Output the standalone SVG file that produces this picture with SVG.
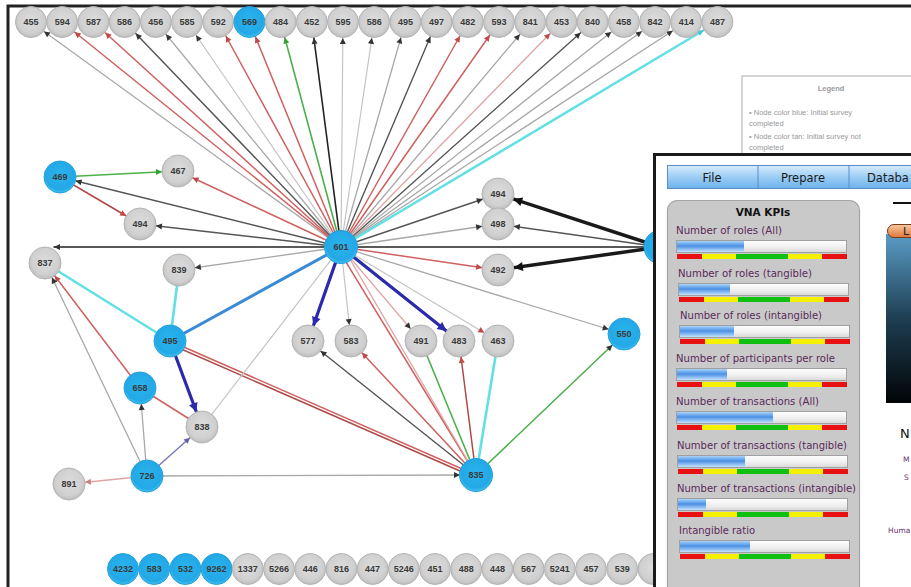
<svg xmlns="http://www.w3.org/2000/svg" width="911" height="587" viewBox="0 0 911 587">
<defs>
<style>
.e{fill:none;stroke-linecap:round}
.gray{stroke:#a8a8a8;stroke-width:1.3}
.lgray{stroke:#c4c4c4;stroke-width:1.2}
.dgray{stroke:#555;stroke-width:1.4}
.black{stroke:#222;stroke-width:1.6}
.red{stroke:#d06060;stroke-width:1.5}
.dred{stroke:#b04848;stroke-width:1.5}
.pink{stroke:#e2a4a4;stroke-width:1.3}
.green{stroke:#4cb04c;stroke-width:1.6}
.cyan{stroke:#62e0e4;stroke-width:2.6}
.blue{stroke:#3a8ad6;stroke-width:3}
.dblue{stroke:#2a2aaa;stroke-width:3.2}
.purple{stroke:#7a7ab8;stroke-width:1.5}
.thick{stroke:#1a1a1a;stroke-width:3.5}
.g circle{fill:url(#gg);stroke:#b4b4b4;stroke-width:1}
.b circle{fill:url(#bg);stroke:#22a0dc;stroke-width:1}
.node text{font-family:"Liberation Sans",Arial,sans-serif;font-size:9px;font-weight:bold;fill:#3a3a3a;text-anchor:middle;dominant-baseline:central}
.menu{font-family:"DejaVu Sans",sans-serif;font-size:11.5px;fill:#1a1a1a}
.kl{font-family:"DejaVu Sans",sans-serif;font-size:10px;fill:#5a2a5a}
.leg{font-family:"Liberation Sans",Arial,sans-serif;font-size:7.5px;fill:#999}
.bar{fill:url(#barbg);stroke:#a0a0a0;stroke-width:1}
.fillb{fill:url(#bluebar)}
.rd{fill:#e81010}.yl{fill:#f4f000}.gn{fill:#10c010}
</style>
<radialGradient id="gg" cx="50%" cy="45%" r="55%"><stop offset="0" stop-color="#dcdcdc"/><stop offset="0.75" stop-color="#d0d0d0"/><stop offset="1" stop-color="#bdbdbd"/></radialGradient>
<radialGradient id="bg" cx="50%" cy="45%" r="55%"><stop offset="0" stop-color="#2ab4ee"/><stop offset="0.8" stop-color="#22a8e6"/><stop offset="1" stop-color="#45c2f0"/></radialGradient>
<linearGradient id="menubg" x1="0" y1="0" x2="0" y2="1"><stop offset="0" stop-color="#d8ecfc"/><stop offset="0.5" stop-color="#9ccdf4"/><stop offset="1" stop-color="#6cb2ec"/></linearGradient>
<linearGradient id="barbg" x1="0" y1="0" x2="0" y2="1"><stop offset="0" stop-color="#ffffff"/><stop offset="0.6" stop-color="#eeeeee"/><stop offset="1" stop-color="#d8d8d8"/></linearGradient>
<linearGradient id="bluebar" x1="0" y1="0" x2="0" y2="1"><stop offset="0" stop-color="#a8d4fa"/><stop offset="0.45" stop-color="#4a90e4"/><stop offset="1" stop-color="#c4e2fc"/></linearGradient>
<linearGradient id="darkbox" x1="0" y1="0" x2="0" y2="1"><stop offset="0" stop-color="#5a9cc6"/><stop offset="0.5" stop-color="#1e3e52"/><stop offset="1" stop-color="#020406"/></linearGradient>
<linearGradient id="orange" x1="0" y1="0" x2="0" y2="1"><stop offset="0" stop-color="#f8c8a0"/><stop offset="1" stop-color="#e0783c"/></linearGradient>
<marker id="ad" markerUnits="userSpaceOnUse" markerWidth="6" markerHeight="6" refX="22" refY="0" orient="auto" overflow="visible"><path d="M0,-3 L6,0 L0,3z" fill="#333"/></marker>
<marker id="adt" markerUnits="userSpaceOnUse" markerWidth="6" markerHeight="6" refX="6" refY="0" orient="auto" overflow="visible"><path d="M0,-3 L6,0 L0,3z" fill="#333"/></marker>
<marker id="ar" markerUnits="userSpaceOnUse" markerWidth="6" markerHeight="6" refX="22" refY="0" orient="auto" overflow="visible"><path d="M0,-3 L6,0 L0,3z" fill="#c04848"/></marker>
<marker id="ag" markerUnits="userSpaceOnUse" markerWidth="6" markerHeight="6" refX="22" refY="0" orient="auto" overflow="visible"><path d="M0,-3 L6,0 L0,3z" fill="#33a033"/></marker>
<marker id="ac" markerUnits="userSpaceOnUse" markerWidth="6" markerHeight="6" refX="22" refY="0" orient="auto" overflow="visible"><path d="M0,-3 L6,0 L0,3z" fill="#40c8d0"/></marker>
<marker id="ap" markerUnits="userSpaceOnUse" markerWidth="6" markerHeight="6" refX="22" refY="0" orient="auto" overflow="visible"><path d="M0,-3 L6,0 L0,3z" fill="#6060a8"/></marker>
<marker id="apk" markerUnits="userSpaceOnUse" markerWidth="6" markerHeight="6" refX="22" refY="0" orient="auto" overflow="visible"><path d="M0,-3 L6,0 L0,3z" fill="#d08080"/></marker>
<marker id="adb" markerUnits="userSpaceOnUse" markerWidth="9" markerHeight="9" refX="25" refY="0" orient="auto" overflow="visible"><path d="M0,-4.5 L9,0 L0,4.5z" fill="#2a2aaa"/></marker>
<marker id="abk" markerUnits="userSpaceOnUse" markerWidth="9" markerHeight="9" refX="25" refY="0" orient="auto" overflow="visible"><path d="M0,-4.5 L9,0 L0,4.5z" fill="#111"/></marker>
</defs>
<rect x="0" y="0" width="911" height="587" fill="#ffffff"/>
<path d="M8,587 V6 H911" fill="none" stroke="#222" stroke-width="3"/>

<g id="legend">
<rect x="742" y="76" width="175" height="90" fill="#fff" stroke="#c8c8c8" stroke-width="1.5"/>
<text x="831" y="91" class="leg" text-anchor="middle" font-weight="bold" fill="#888">Legend</text>
<text x="749" y="115" class="leg">• Node color blue: Initial survey</text>
<text x="749" y="126" class="leg">completed</text>
<text x="749" y="139" class="leg">• Node color tan: Initial survey not</text>
<text x="749" y="150" class="leg">completed</text>
</g>

<g id="connectors">
<line class="e gray" x1="341" y1="247" x2="31" y2="22" marker-end="url(#ad)"/>
<line class="e red" x1="341" y1="247" x2="62.2" y2="22" marker-end="url(#ar)"/>
<line class="e red" x1="341" y1="247" x2="93.4" y2="22" marker-end="url(#ar)"/>
<line class="e dgray" x1="341" y1="247" x2="124.6" y2="22" marker-end="url(#ad)"/>
<line class="e gray" x1="341" y1="247" x2="155.8" y2="22" marker-end="url(#ad)"/>
<line class="e lgray" x1="341" y1="247" x2="187" y2="22" marker-end="url(#ad)"/>
<line class="e red" x1="341" y1="247" x2="218.2" y2="22" marker-end="url(#ar)"/>
<line class="e red" x1="341" y1="247" x2="249.4" y2="22" marker-end="url(#ar)"/>
<line class="e green" x1="341" y1="247" x2="280.6" y2="22" marker-end="url(#ag)"/>
<line class="e black" x1="341" y1="247" x2="311.8" y2="22" marker-end="url(#ad)"/>
<line class="e lgray" x1="341" y1="247" x2="343" y2="22" marker-end="url(#ad)"/>
<line class="e lgray" x1="341" y1="247" x2="374.2" y2="22" marker-end="url(#ad)"/>
<line class="e gray" x1="341" y1="247" x2="405.4" y2="22" marker-end="url(#ad)"/>
<line class="e dgray" x1="341" y1="247" x2="436.6" y2="22" marker-end="url(#ad)"/>
<line class="e red" x1="341" y1="247" x2="467.8" y2="22" marker-end="url(#ar)"/>
<line class="e red" x1="341" y1="247" x2="499" y2="22" marker-end="url(#ar)"/>
<line class="e gray" x1="341" y1="247" x2="530.2" y2="22" marker-end="url(#ad)"/>
<line class="e pink" x1="341" y1="247" x2="561.4" y2="22" marker-end="url(#ar)"/>
<line class="e dgray" x1="341" y1="247" x2="592.6" y2="22" marker-end="url(#ad)"/>
<line class="e gray" x1="341" y1="247" x2="623.8" y2="22" marker-end="url(#ad)"/>
<line class="e gray" x1="341" y1="247" x2="655" y2="22" marker-end="url(#ad)"/>
<line class="e gray" x1="341" y1="247" x2="686.2" y2="22" marker-end="url(#ad)"/>
<line class="e cyan" x1="341" y1="247" x2="717.4" y2="22" marker-end="url(#ac)"/>

<line class="e green" x1="60" y1="177" x2="178" y2="171" marker-end="url(#ag)"/>
<line class="e red" x1="341" y1="247" x2="178" y2="171" marker-end="url(#ar)"/>
<line class="e dred" x1="60" y1="177" x2="140" y2="224" marker-end="url(#ar)"/>
<line class="e dgray" x1="341" y1="247" x2="140" y2="224" marker-end="url(#ad)"/>
<line class="e dgray" x1="341" y1="247" x2="60" y2="177" marker-end="url(#ad)"/>
<line class="e black" x1="660" y1="247" x2="54" y2="247" marker-end="url(#adt)"/>
<line class="e gray" x1="341" y1="247" x2="179" y2="270" marker-end="url(#ad)"/>
<line class="e cyan" x1="45" y1="263" x2="170" y2="341"/>
<line class="e cyan" x1="179" y1="270" x2="170" y2="341"/>
<line class="e blue" x1="341" y1="247" x2="170" y2="341"/>
<line class="e red" x1="170" y1="341" x2="476" y2="475"/>
<line class="e dred" x1="172" y1="345" x2="476" y2="478"/>
<line class="e red" x1="140" y1="388" x2="202" y2="427"/>
<line class="e red" x1="140" y1="388" x2="45" y2="263" marker-end="url(#ar)"/>
<line class="e gray" x1="147" y1="476" x2="45" y2="263" marker-end="url(#ad)"/>
<line class="e gray" x1="147" y1="476" x2="140" y2="388" marker-end="url(#ad)"/>
<line class="e purple" x1="147" y1="476" x2="202" y2="427" marker-end="url(#ap)"/>
<line class="e lgray" x1="202" y1="427" x2="341" y2="247"/>
<line class="e pink" x1="147" y1="476" x2="69" y2="484" marker-end="url(#apk)"/>
<line class="e gray" x1="147" y1="476" x2="476" y2="475" marker-end="url(#ad)"/>
<line class="e dblue" x1="170" y1="341" x2="202" y2="427" marker-end="url(#adb)"/>

<line class="e dblue" x1="341" y1="247" x2="308" y2="341" marker-end="url(#adb)"/>
<line class="e lgray" x1="341" y1="247" x2="351" y2="341" marker-end="url(#ad)"/>
<line class="e pink" x1="341" y1="247" x2="421" y2="341" marker-end="url(#ad)"/>
<line class="e dblue" x1="341" y1="247" x2="459" y2="341" marker-end="url(#adb)"/>
<line class="e lgray" x1="341" y1="247" x2="498" y2="341" marker-end="url(#ar)"/>
<line class="e gray" x1="341" y1="247" x2="624" y2="334" marker-end="url(#ad)"/>
<line class="e red" x1="338" y1="249" x2="476" y2="475"/>
<line class="e pink" x1="344" y1="249" x2="476" y2="475"/>
<line class="e dgray" x1="476" y1="475" x2="308" y2="341" marker-end="url(#ad)"/>
<line class="e red" x1="476" y1="475" x2="351" y2="341" marker-end="url(#ar)"/>
<line class="e green" x1="476" y1="475" x2="421" y2="341"/>
<line class="e dred" x1="476" y1="475" x2="459" y2="341" marker-end="url(#ar)"/>
<line class="e cyan" x1="476" y1="475" x2="498" y2="341"/>
<line class="e green" x1="476" y1="475" x2="624" y2="334" marker-end="url(#ad)"/>

<line class="e dgray" x1="341" y1="247" x2="498" y2="194" marker-end="url(#ad)"/>
<line class="e gray" x1="341" y1="247" x2="498" y2="224" marker-end="url(#ad)"/>
<line class="e red" x1="341" y1="247" x2="498" y2="270" marker-end="url(#ar)"/>
<line class="e thick" x1="660" y1="247" x2="498" y2="194" marker-end="url(#abk)"/>
<line class="e dgray" x1="660" y1="247" x2="498" y2="224" marker-end="url(#ad)"/>
<line class="e thick" x1="660" y1="247" x2="498" y2="270" marker-end="url(#abk)"/>
</g>

<g id="n-t455" class="node g"><circle cx="31" cy="22" r="15.5"/><text x="31" y="22">455</text></g>
<g id="n-t594" class="node g"><circle cx="62.2" cy="22" r="15.5"/><text x="62.2" y="22">594</text></g>
<g id="n-t587" class="node g"><circle cx="93.4" cy="22" r="15.5"/><text x="93.4" y="22">587</text></g>
<g id="n-t586a" class="node g"><circle cx="124.6" cy="22" r="15.5"/><text x="124.6" y="22">586</text></g>
<g id="n-t456" class="node g"><circle cx="155.8" cy="22" r="15.5"/><text x="155.8" y="22">456</text></g>
<g id="n-t585" class="node g"><circle cx="187" cy="22" r="15.5"/><text x="187" y="22">585</text></g>
<g id="n-t592" class="node g"><circle cx="218.2" cy="22" r="15.5"/><text x="218.2" y="22">592</text></g>
<g id="n-t569" class="node b"><circle cx="249.4" cy="22" r="15.5"/><text x="249.4" y="22">569</text></g>
<g id="n-t484" class="node g"><circle cx="280.6" cy="22" r="15.5"/><text x="280.6" y="22">484</text></g>
<g id="n-t452" class="node g"><circle cx="311.8" cy="22" r="15.5"/><text x="311.8" y="22">452</text></g>
<g id="n-t595" class="node g"><circle cx="343" cy="22" r="15.5"/><text x="343" y="22">595</text></g>
<g id="n-t586b" class="node g"><circle cx="374.2" cy="22" r="15.5"/><text x="374.2" y="22">586</text></g>
<g id="n-t495" class="node g"><circle cx="405.4" cy="22" r="15.5"/><text x="405.4" y="22">495</text></g>
<g id="n-t497" class="node g"><circle cx="436.6" cy="22" r="15.5"/><text x="436.6" y="22">497</text></g>
<g id="n-t482" class="node g"><circle cx="467.8" cy="22" r="15.5"/><text x="467.8" y="22">482</text></g>
<g id="n-t593" class="node g"><circle cx="499" cy="22" r="15.5"/><text x="499" y="22">593</text></g>
<g id="n-t841" class="node g"><circle cx="530.2" cy="22" r="15.5"/><text x="530.2" y="22">841</text></g>
<g id="n-t453" class="node g"><circle cx="561.4" cy="22" r="15.5"/><text x="561.4" y="22">453</text></g>
<g id="n-t840" class="node g"><circle cx="592.6" cy="22" r="15.5"/><text x="592.6" y="22">840</text></g>
<g id="n-t458" class="node g"><circle cx="623.8" cy="22" r="15.5"/><text x="623.8" y="22">458</text></g>
<g id="n-t842" class="node g"><circle cx="655" cy="22" r="15.5"/><text x="655" y="22">842</text></g>
<g id="n-t414" class="node g"><circle cx="686.2" cy="22" r="15.5"/><text x="686.2" y="22">414</text></g>
<g id="n-t487" class="node g"><circle cx="717.4" cy="22" r="15.5"/><text x="717.4" y="22">487</text></g>

<g id="n-601" class="node b"><circle cx="341" cy="247" r="16.5"/><text x="341" y="247">601</text></g>
<g id="n-469" class="node b"><circle cx="60" cy="177" r="16"/><text x="60" y="177">469</text></g>
<g id="n-467" class="node g"><circle cx="178" cy="171" r="16"/><text x="178" y="171">467</text></g>
<g id="n-494a" class="node g"><circle cx="140" cy="224" r="16"/><text x="140" y="224">494</text></g>
<g id="n-837" class="node g"><circle cx="45" cy="263" r="16"/><text x="45" y="263">837</text></g>
<g id="n-839" class="node g"><circle cx="179" cy="270" r="16"/><text x="179" y="270">839</text></g>
<g id="n-495" class="node b"><circle cx="170" cy="341" r="16"/><text x="170" y="341">495</text></g>
<g id="n-658" class="node b"><circle cx="140" cy="388" r="16"/><text x="140" y="388">658</text></g>
<g id="n-838" class="node g"><circle cx="202" cy="427" r="16"/><text x="202" y="427">838</text></g>
<g id="n-726" class="node b"><circle cx="147" cy="476" r="16"/><text x="147" y="476">726</text></g>
<g id="n-891" class="node g"><circle cx="69" cy="484" r="16"/><text x="69" y="484">891</text></g>
<g id="n-577" class="node g"><circle cx="308" cy="341" r="16"/><text x="308" y="341">577</text></g>
<g id="n-583" class="node g"><circle cx="351" cy="341" r="16"/><text x="351" y="341">583</text></g>
<g id="n-491" class="node g"><circle cx="421" cy="341" r="16"/><text x="421" y="341">491</text></g>
<g id="n-483" class="node g"><circle cx="459" cy="341" r="16"/><text x="459" y="341">483</text></g>
<g id="n-463" class="node g"><circle cx="498" cy="341" r="16"/><text x="498" y="341">463</text></g>
<g id="n-550" class="node b"><circle cx="624" cy="334" r="16"/><text x="624" y="334">550</text></g>
<g id="n-835" class="node b"><circle cx="476" cy="475" r="16.5"/><text x="476" y="475">835</text></g>
<g id="n-494b" class="node g"><circle cx="498" cy="194" r="16"/><text x="498" y="194">494</text></g>
<g id="n-498" class="node g"><circle cx="498" cy="224" r="16"/><text x="498" y="224">498</text></g>
<g id="n-492" class="node g"><circle cx="498" cy="270" r="16"/><text x="498" y="270">492</text></g>
<g id="n-right" class="node b"><circle cx="661" cy="247" r="17"/></g>

<g id="n-b4232" class="node b"><circle cx="123" cy="569" r="15.5"/><text x="123" y="569">4232</text></g>
<g id="n-b583" class="node b"><circle cx="154.2" cy="569" r="15.5"/><text x="154.2" y="569">583</text></g>
<g id="n-b532" class="node b"><circle cx="185.4" cy="569" r="15.5"/><text x="185.4" y="569">532</text></g>
<g id="n-b9262" class="node b"><circle cx="216.6" cy="569" r="15.5"/><text x="216.6" y="569">9262</text></g>
<g id="n-b1337" class="node g"><circle cx="247.8" cy="569" r="15.5"/><text x="247.8" y="569">1337</text></g>
<g id="n-b5266" class="node g"><circle cx="279" cy="569" r="15.5"/><text x="279" y="569">5266</text></g>
<g id="n-b446" class="node g"><circle cx="310.2" cy="569" r="15.5"/><text x="310.2" y="569">446</text></g>
<g id="n-b816" class="node g"><circle cx="341.4" cy="569" r="15.5"/><text x="341.4" y="569">816</text></g>
<g id="n-b447" class="node g"><circle cx="372.6" cy="569" r="15.5"/><text x="372.6" y="569">447</text></g>
<g id="n-b5246" class="node g"><circle cx="403.8" cy="569" r="15.5"/><text x="403.8" y="569">5246</text></g>
<g id="n-b451" class="node g"><circle cx="435" cy="569" r="15.5"/><text x="435" y="569">451</text></g>
<g id="n-b488" class="node g"><circle cx="466.2" cy="569" r="15.5"/><text x="466.2" y="569">488</text></g>
<g id="n-b448" class="node g"><circle cx="497.4" cy="569" r="15.5"/><text x="497.4" y="569">448</text></g>
<g id="n-b567" class="node g"><circle cx="528.6" cy="569" r="15.5"/><text x="528.6" y="569">567</text></g>
<g id="n-b5241" class="node g"><circle cx="559.8" cy="569" r="15.5"/><text x="559.8" y="569">5241</text></g>
<g id="n-b457" class="node g"><circle cx="591" cy="569" r="15.5"/><text x="591" y="569">457</text></g>
<g id="n-b539" class="node g"><circle cx="622.2" cy="569" r="15.5"/><text x="622.2" y="569">539</text></g>
<g id="n-b-last" class="node g"><circle cx="653.4" cy="569" r="15.5"/></g>

<g id="panel">
<rect x="654.5" y="154.5" width="260" height="440" fill="#ffffff" stroke="#1a1a1a" stroke-width="3"/>
<g id="menubar">
<rect x="667.5" y="165.5" width="250" height="23" fill="url(#menubg)" stroke="#5a8cc8" stroke-width="1"/>
<line x1="758" y1="166" x2="758" y2="188" stroke="#5a8cc8"/>
<line x1="849" y1="166" x2="849" y2="188" stroke="#5a8cc8"/>
<text x="712" y="181.5" class="menu" text-anchor="middle">File</text>
<text x="803" y="181.5" class="menu" text-anchor="middle">Prepare</text>
<text x="867" y="181.5" class="menu">Databa</text>
</g>
<g id="kpis">
<rect x="667.5" y="200.5" width="192" height="400" rx="10" fill="#c9c9c9" stroke="#a4a4a4" stroke-width="1.2"/>
<text x="763" y="216" font-family="DejaVu Sans, sans-serif" font-size="10.5" font-weight="bold" fill="#111" text-anchor="middle">VNA KPIs</text>

<text x="676" y="234" class="kl" textLength="106" lengthAdjust="spacingAndGlyphs">Number of roles (All)</text>
<rect class="bar" x="676.5" y="240.5" width="170" height="12"/><rect class="fillb" x="677" y="241" width="67" height="11"/>
<rect class="rd" x="677" y="254" width="25" height="5"/><rect class="yl" x="702" y="254" width="34" height="5"/><rect class="gn" x="736" y="254" width="52" height="5"/><rect class="yl" x="788" y="254" width="34" height="5"/><rect class="rd" x="822" y="254" width="25" height="5"/>

<text x="678" y="277" class="kl" textLength="134" lengthAdjust="spacingAndGlyphs">Number of roles (tangible)</text>
<rect class="bar" x="678.5" y="283.5" width="170" height="12"/><rect class="fillb" x="679" y="284" width="51" height="11"/>
<rect class="rd" x="679" y="297" width="25" height="5"/><rect class="yl" x="704" y="297" width="34" height="5"/><rect class="gn" x="738" y="297" width="52" height="5"/><rect class="yl" x="790" y="297" width="34" height="5"/><rect class="rd" x="824" y="297" width="25" height="5"/>

<text x="680" y="319" class="kl" textLength="142" lengthAdjust="spacingAndGlyphs">Number of roles (intangible)</text>
<rect class="bar" x="679.5" y="325.5" width="170" height="12"/><rect class="fillb" x="680" y="326" width="54" height="11"/>
<rect class="rd" x="680" y="339" width="25" height="5"/><rect class="yl" x="705" y="339" width="34" height="5"/><rect class="gn" x="739" y="339" width="52" height="5"/><rect class="yl" x="791" y="339" width="34" height="5"/><rect class="rd" x="825" y="339" width="25" height="5"/>

<text x="676" y="362" class="kl" textLength="159" lengthAdjust="spacingAndGlyphs">Number of participants per role</text>
<rect class="bar" x="676.5" y="368.5" width="170" height="12"/><rect class="fillb" x="677" y="369" width="50" height="11"/>
<rect class="rd" x="677" y="382" width="25" height="5"/><rect class="yl" x="702" y="382" width="34" height="5"/><rect class="gn" x="736" y="382" width="52" height="5"/><rect class="yl" x="788" y="382" width="34" height="5"/><rect class="rd" x="822" y="382" width="25" height="5"/>

<text x="676" y="405" class="kl" textLength="143" lengthAdjust="spacingAndGlyphs">Number of transactions (All)</text>
<rect class="bar" x="676.5" y="411.5" width="170" height="12"/><rect class="fillb" x="677" y="412" width="96" height="11"/>
<rect class="rd" x="677" y="425" width="25" height="5"/><rect class="yl" x="702" y="425" width="34" height="5"/><rect class="gn" x="736" y="425" width="52" height="5"/><rect class="yl" x="788" y="425" width="34" height="5"/><rect class="rd" x="822" y="425" width="25" height="5"/>

<text x="677" y="449" class="kl" textLength="170" lengthAdjust="spacingAndGlyphs">Number of transactions (tangible)</text>
<rect class="bar" x="677.5" y="455.5" width="170" height="12"/><rect class="fillb" x="678" y="456" width="67" height="11"/>
<rect class="rd" x="678" y="469" width="25" height="5"/><rect class="yl" x="703" y="469" width="34" height="5"/><rect class="gn" x="737" y="469" width="52" height="5"/><rect class="yl" x="789" y="469" width="34" height="5"/><rect class="rd" x="823" y="469" width="25" height="5"/>

<text x="677" y="492" class="kl" textLength="179" lengthAdjust="spacingAndGlyphs">Number of transactions (intangible)</text>
<rect class="bar" x="677.5" y="498.5" width="170" height="12"/><rect class="fillb" x="678" y="499" width="28" height="11"/>
<rect class="rd" x="678" y="512" width="25" height="5"/><rect class="yl" x="703" y="512" width="34" height="5"/><rect class="gn" x="737" y="512" width="52" height="5"/><rect class="yl" x="789" y="512" width="34" height="5"/><rect class="rd" x="823" y="512" width="25" height="5"/>

<text x="679" y="534" class="kl" textLength="76" lengthAdjust="spacingAndGlyphs">Intangible ratio</text>
<rect class="bar" x="679.5" y="540.5" width="170" height="12"/><rect class="fillb" x="680" y="541" width="70" height="11"/>
<rect class="rd" x="680" y="554" width="25" height="5"/><rect class="yl" x="705" y="554" width="34" height="5"/><rect class="gn" x="739" y="554" width="52" height="5"/><rect class="yl" x="791" y="554" width="34" height="5"/><rect class="rd" x="825" y="554" width="25" height="5"/>
</g>
<line x1="893" y1="203" x2="911" y2="203" stroke="#111" stroke-width="2"/>
<rect x="886" y="234" width="30" height="169" fill="url(#darkbox)"/>
<rect x="887.5" y="224.5" width="30" height="13" rx="6.5" fill="url(#orange)" stroke="#7a3a18" stroke-width="1"/>
<text x="903" y="235" font-family="DejaVu Sans, sans-serif" font-size="11" fill="#222">L</text>
<text x="900" y="438" font-family="DejaVu Sans, sans-serif" font-size="13" fill="#111">N</text>
<text x="903" y="462" font-family="DejaVu Sans, sans-serif" font-size="7.5" fill="#6a3070">M</text>
<text x="904" y="480" font-family="DejaVu Sans, sans-serif" font-size="7.5" fill="#6a3070">S</text>
<text x="888" y="533" font-family="DejaVu Sans, sans-serif" font-size="7.5" fill="#6a3070">Huma</text>
</g>
</svg>
